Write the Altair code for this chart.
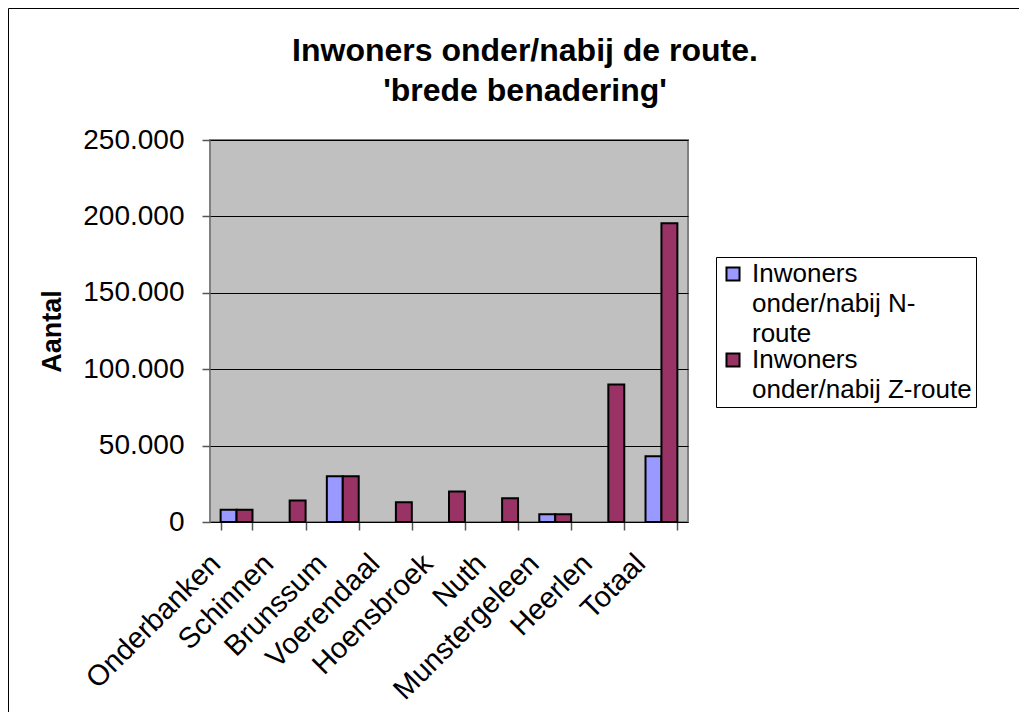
import altair as alt
import pandas as pd

gemeenten = ["Onderbanken", "Schinnen", "Brunssum", "Voerendaal", "Hoensbroek",
             "Nuth", "Munstergeleen", "Heerlen", "Totaal"]
n_route = [8000, 0, 30000, 0, 0, 0, 5000, 0, 43000]
z_route = [8000, 14000, 30000, 13000, 20000, 15500, 5000, 90000, 195500]
series = ["Inwoners onder/nabij  N-route", "Inwoners onder/nabij Z-route"]
legend_lines = [["Inwoners", "onder/nabij  N-", "route"],
                ["Inwoners", "onder/nabij Z-route"]]
colors = ["#9999FF", "#993366"]
y_ticks = [0, 50000, 100000, 150000, 200000, 250000]
title_lines = ["Inwoners onder/nabij de route.", "'brede benadering'"]

rows = []
for g, n, z in zip(gemeenten, n_route, z_route):
    if n:
        rows.append({"Gemeente": g, "Reeks": series[0], "Aantal": n})
    if z:
        rows.append({"Gemeente": g, "Reeks": series[1], "Aantal": z})
df = pd.DataFrame(rows)

FONT = "Liberation Sans"

label_expr = "datum.label == '%s' ? %s : %s" % (
    series[0],
    "[" + ",".join("'%s'" % s for s in legend_lines[0]) + "]",
    "[" + ",".join("'%s'" % s for s in legend_lines[1]) + "]",
)

one = alt.Data(values=[{}])

frame = alt.Chart(one).mark_rect(
    fillOpacity=0, stroke="black", strokeWidth=1, clip=False
).encode(
    x=alt.value(-201.5), x2=alt.value(1200),
    y=alt.value(-131.5), y2=alt.value(1000),
)

title = alt.Chart(one).mark_text(
    text=title_lines, font=FONT, fontSize=32, fontWeight="bold", color="black",
    lineHeight=40, align="center", baseline="alphabetic",
).encode(x=alt.value(315), y=alt.value(-79))

bars = alt.Chart(df).mark_bar(stroke="black", strokeWidth=2).encode(
    x=alt.X("Gemeente:N", sort=gemeenten,
            scale=alt.Scale(paddingInner=0.4, paddingOuter=0.2),
            axis=alt.Axis(title=None, labelAngle=-45, labelAlign="right",
                          labelBaseline="alphabetic", labelOffset=-15,
                          labelPadding=35, tickSize=8, tickBand="extent",
                          tickColor="#555555", tickWidth=1.5,
                          domain=False, labelFont=FONT, labelFontSize=29,
                          labelColor="black", labelOverlap=False,
                          labelLimit=600)),
    xOffset=alt.XOffset("Reeks:N", sort=series,
                        scale=alt.Scale(paddingInner=0, paddingOuter=0)),
    y=alt.Y("Aantal:Q", scale=alt.Scale(domain=[0, 250000], nice=False),
            axis=alt.Axis(title="Aantal", values=y_ticks,
                          labelExpr="replace(format(datum.value, ',d'), ',', '.')",
                          grid=True, gridColor="black", gridWidth=1,
                          tickSize=8, tickColor="#555555", tickWidth=1.5,
                          domain=False, labelPadding=18,
                          labelFont=FONT, labelFontSize=28, labelColor="black",
                          titleFont=FONT, titleFontSize=27, titleFontWeight="bold",
                          titleColor="black", titleX=-158, titleY=191,
                          titleAlign="center", titleBaseline="middle")),
    color=alt.Color("Reeks:N", sort=series,
                    scale=alt.Scale(domain=series, range=colors),
                    legend=alt.Legend(title=None, orient="none", legendX=506, legendY=117,
                                      direction="vertical", strokeColor="black",
                                      fillColor="white", padding=4,
                                      symbolType="square", symbolSize=170,
                                      symbolStrokeColor="black", symbolStrokeWidth=2,
                                      labelFont=FONT, labelFontSize=26, labelColor="black",
                                      labelLimit=500, labelExpr=label_expr,
                                      labelBaseline="middle", labelOffset=6,
                                      rowPadding=-4)),
)

chart = alt.layer(frame, title, bars).properties(
    width=478, height=382,
    autosize=alt.AutoSizeParams(type="none"),
    padding={"left": 202, "top": 132, "right": 331, "bottom": 190},
).configure(
    background="white",
    style={"guide-label": {"lineHeight": 30}},
).configure_view(
    fill="#C0C0C0", stroke="#808080", strokeWidth=2
)

chart.save("out.html", embed_options={"renderer": "svg", "actions": False})
